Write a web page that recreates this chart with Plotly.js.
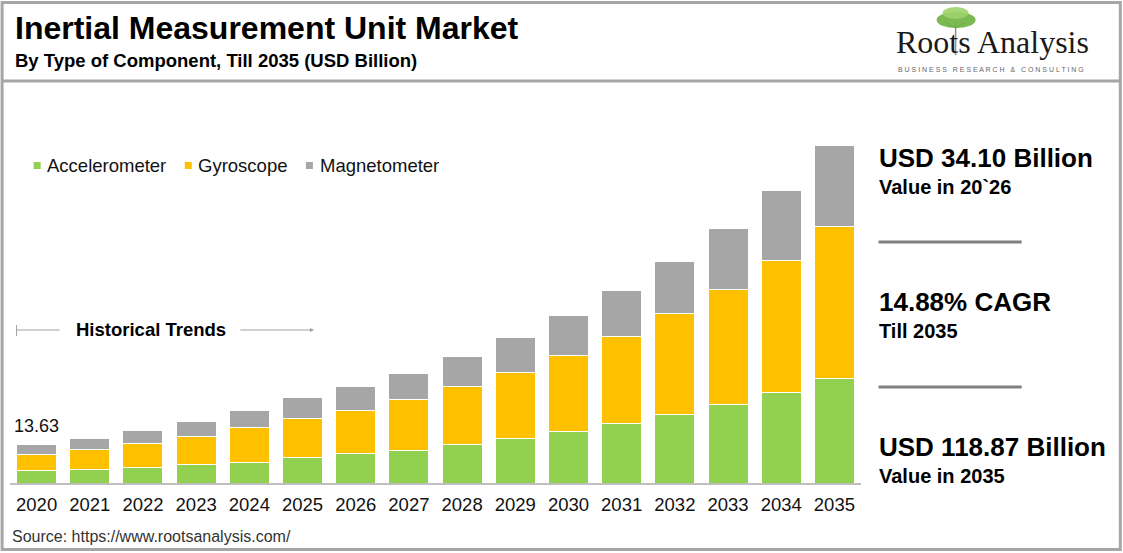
<!DOCTYPE html>
<html><head><meta charset="utf-8">
<script src="https://cdn.plot.ly/plotly-3.0.1.min.js"></script>
<style>html,body{margin:0;padding:0;background:#fff;} #chart{width:1123px;height:553px;}</style>
</head><body><div id="chart"></div>
<script>
// ---- data ----
const years = ['2020','2021','2022','2023','2024','2025','2026','2027','2028','2029','2030','2031','2032','2033','2034','2035'];
const accelerometer = [4.30,4.82,5.39,6.58,7.39,8.91,10.40,11.62,13.63,15.74,18.20,21.02,24.19,27.71,31.94,36.87];
const gyroscope     = [5.70,6.90,8.59,9.86,12.22,13.73,15.20,17.85,20.42,23.24,26.76,30.49,35.32,40.49,46.48,53.38];
const magnetometer  = [3.63,4.12,4.68,5.39,6.09,7.64,8.50,9.26,10.67,12.43,14.08,16.44,18.66,21.48,24.75,28.62];
const seriesNames = ['Accelerometer','Gyroscope','Magnetometer'];
const seriesColors = ['#92D050','#FFC000','#A6A6A6'];
const firstValueLabel = '13.63';
const titleText = 'Inertial Measurement Unit Market';
const subtitleText = 'By Type of Component, Till 2035 (USD Billion)';
const kpiValues = ['USD 34.10 Billion','14.88% CAGR','USD 118.87 Billion'];
const kpiLabels = ['Value in 20`26','Till 2035','Value in 2035'];
const sourceText = 'Source: https://www.rootsanalysis.com/';

// ---- layout geometry (pixels) ----
const W = 1123, H = 553;
const ML = 10.4, PW = 850.1, MT = 143, PH = 340;
const MB = H - MT - PH, MR = W - ML - PW;
const X = px => (px - ML) / PW;
const Y = py => (MT + PH - py) / PH;
const FONT = 'Liberation Sans, Arial, sans-serif';

const seriesData = [accelerometer, gyroscope, magnetometer];
const traces = seriesData.map((vals, i) => ({
  type: 'bar', name: seriesNames[i], x: years, y: vals,
  marker: {color: seriesColors[i], line: {color: '#FFFFFF', width: 1}},
  showlegend: false, hoverinfo: 'x+y+name'
}));

const ann = [];
const shapes = [];
function txt(text, px, py, size, opts) {
  ann.push(Object.assign({text: text, xref: 'paper', yref: 'paper', x: X(px), y: Y(py),
    xanchor: 'left', yanchor: 'middle', showarrow: false,
    font: {family: FONT, size: size, color: '#000'}}, opts || {}));
}
// titles
txt('<b>' + titleText + '</b>', 13, 28, 32);
txt('<b>' + subtitleText + '</b>', 13, 61, 18.5);
// legend (custom)
const legendSq = [34, 185, 306];
const legendTx = [45, 196, 318];
seriesNames.forEach((n, i) => {
  shapes.push({type: 'rect', xref: 'paper', yref: 'paper', x0: X(legendSq[i]), x1: X(legendSq[i] + 7),
    y0: Y(162), y1: Y(169), fillcolor: seriesColors[i], line: {width: 0}});
  txt(n, legendTx[i], 165, 18.5, {font: {family: FONT, size: 18.5, color: '#111'}});
});
// historical trends
shapes.push({type: 'line', xref: 'paper', yref: 'paper', x0: X(17), x1: X(60), y0: Y(330), y1: Y(330), line: {color: '#A0A0A0', width: 1}});
shapes.push({type: 'line', xref: 'paper', yref: 'paper', x0: X(17), x1: X(17), y0: Y(325), y1: Y(336), line: {color: '#A0A0A0', width: 1}});
txt('<b>Historical Trends</b>', 74, 329, 18.5);
ann.push({text: '', xref: 'paper', yref: 'paper', x: X(314), y: Y(330), axref: 'pixel', ayref: 'pixel', ax: -75, ay: 0,
  showarrow: true, arrowhead: 2, arrowsize: 0.8, arrowwidth: 1, arrowcolor: '#A0A0A0'});
// first value label (category index of the first year)
ann.push({text: firstValueLabel, xref: 'x', yref: 'y', x: years.indexOf(years[0]),
  y: accelerometer[0] + gyroscope[0] + magnetometer[0], yshift: 6, yanchor: 'bottom', showarrow: false,
  font: {family: FONT, size: 18, color: '#111'}});
// KPIs
const kpiY = [158, 302, 447];
kpiValues.forEach((v, i) => {
  txt('<b>' + v + '</b>', 876, kpiY[i], 26);
  txt('<b>' + kpiLabels[i] + '</b>', 876, kpiY[i] + 29, 20);
});
[242, 387].forEach(py => shapes.push({type: 'line', xref: 'paper', yref: 'paper', x0: X(878), x1: X(1021),
  y0: Y(py), y1: Y(py), line: {color: '#808080', width: 3}}));
// source
txt(sourceText, 10, 536, 16, {font: {family: FONT, size: 16, color: '#333'}});
// logo
shapes.push({type: 'line', xref: 'paper', yref: 'paper', x0: X(955), x1: X(955), y0: Y(22), y1: Y(55), line: {color: '#9A8F80', width: 1.5}});
shapes.push({type: 'path', xref: 'paper', yref: 'paper',
  path: 'M' + X(955) + ',' + Y(28) + ' L' + X(944) + ',' + Y(22) + ' M' + X(955) + ',' + Y(28) + ' L' + X(965) + ',' + Y(22),
  line: {color: '#8a7f70', width: 1}});
shapes.push({type: 'circle', xref: 'paper', yref: 'paper', x0: X(936), x1: X(975), y0: Y(12), y1: Y(28), fillcolor: '#6DB33F', line: {width: 0}, opacity: 0.9});
shapes.push({type: 'circle', xref: 'paper', yref: 'paper', x0: X(942), x1: X(968), y0: Y(7), y1: Y(19), fillcolor: '#9FD36A', line: {width: 0}, opacity: 0.9});
txt('Roots Analysis', 893, 42, 32, {font: {family: 'Liberation Serif, Times New Roman, serif', size: 32, color: '#1a1a1a'}});
txt('B U S I N E S S &nbsp; R E S E A R C H &nbsp; &amp; &nbsp; C O N S U L T I N G', 895, 69, 7, {font: {family: FONT, size: 7, color: '#666'}});
// frame
shapes.push({type: 'rect', xref: 'paper', yref: 'paper', x0: X(2.5), x1: X(1119.5), y0: Y(2.5), y1: Y(549.5), line: {color: '#A6A6A6', width: 3}, layer: 'above'});
shapes.push({type: 'line', xref: 'paper', yref: 'paper', x0: X(2.5), x1: X(1119.5), y0: Y(81), y1: Y(81), line: {color: '#A6A6A6', width: 3}});

const layout = {
  width: W, height: H, barmode: 'stack', bargap: 0.247,
  margin: {l: ML, r: MR, t: MT, b: MB, pad: 0},
  paper_bgcolor: '#fff', plot_bgcolor: '#fff',
  xaxis: {type: 'category', range: [-0.5, years.length - 0.5], autorange: false, showline: true, linecolor: '#BFBFBF', linewidth: 1.5, ticks: '',
    tickfont: {family: FONT, size: 18.5, color: '#111'}, ticklabelstandoff: 4, showgrid: false, fixedrange: true},
  yaxis: {range: [0, PH / 2.84], autorange: false, visible: false, showgrid: false, zeroline: false, fixedrange: true},
  annotations: ann, shapes: shapes, showlegend: false
};
Plotly.newPlot('chart', traces, layout, {displayModeBar: false, staticPlot: true});
</script></body></html>
